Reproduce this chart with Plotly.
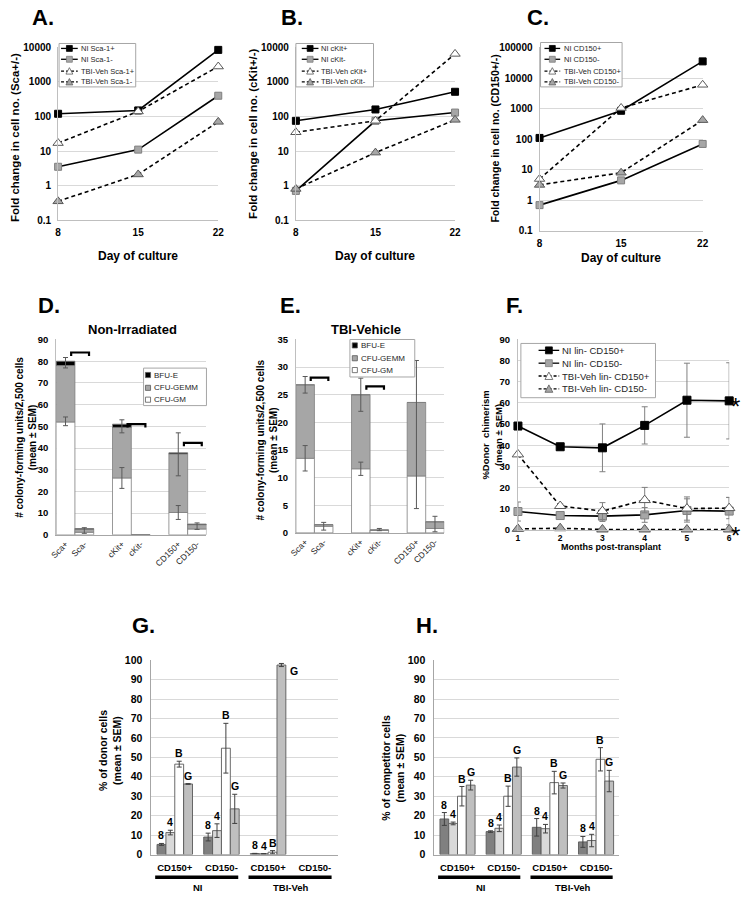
import plotly.graph_objects as go

W, H = 746, 900
def px(x): return x / W
def py(y): return 1 - y / H

FONT = "Liberation Sans, Arial, sans-serif"
GRID = "#D9D9D9"
AXIS = "#BFBFBF"

# ---------------- data ----------------
days = [8, 15, 22]
a_ni_pos = [120, 150, 8500]
a_ni_neg = [3.5, 11, 400]
a_tbi_pos = [17, 140, 2800]
a_tbi_neg = [0.35, 2.1, 70]

b_ni_pos = [75, 160, 520]
b_ni_neg = [0.7, 75, 130]
b_tbi_pos = [35, 75, 6500]
b_tbi_neg = [0.8, 9, 80]

c_ni_pos = [110, 850, 35000]
c_ni_neg = [0.7, 4.5, 70]
c_tbi_pos = [5, 1050, 6000]
c_tbi_neg = [3.2, 8, 420]

ab_ticks = [0.1, 1, 10, 100, 1000, 10000]
c_ticks = [0.1, 1, 10, 100, 1000, 10000, 100000]

# D / E colony assays
slots = ["Sca+", "Sca-", "", "cKit+", "cKit-", "", "CD150+", "CD150-"]
cfu_groups = ["Sca+", "Sca-", "cKit+", "cKit-", "CD150+", "CD150-"]

d_gm = [52.0, 1.2, 26.2, 0, 10.3, 2.7]
d_gemm = [26.0, 1.4, 23.3, 0, 27.0, 2.0]
d_bfu = [2.0, 0.3, 1.5, 0, 0.5, 0.3]
d_err_cats = ["Sca+", "Sca+", "Sca-", "cKit+", "cKit+", "CD150+", "CD150+", "CD150-"]
d_err_mid = [52.3, 79.3, 2.0, 26.2, 50.0, 10.3, 37.1, 4.0]
d_err_plus = [2.0, 2.4, 1.3, 4.8, 3.0, 3.2, 9.9, 1.5]
d_err_minus = [2.0, 2.4, 1.3, 4.8, 3.0, 3.2, 9.9, 1.5]
d_brackets = [("Sca+", "Sca-", 84.0), ("cKit+", "cKit-", 51.0), ("CD150+", "CD150-", 42.4)]

e_gm = [13.5, 1.2, 11.6, 0.5, 10.3, 0.8]
e_gemm = [13.3, 0.3, 13.4, 0, 13.3, 1.2]
e_bfu = [0, 0, 0, 0, 0, 0]
e_err_cats = ["Sca+", "Sca+", "Sca-", "cKit+", "cKit+", "cKit-", "CD150+", "CD150-"]
e_err_mid = [13.5, 26.8, 1.2, 11.6, 25.0, 0.6, 16.0, 1.2]
e_err_plus = [2.3, 1.5, 0.7, 1.2, 3.0, 0.2, 15.2, 1.8]
e_err_minus = [2.3, 1.5, 0.7, 1.2, 3.0, 0.2, 11.6, 1.0]
e_brackets = [("Sca+", "Sca-", 28.1), ("cKit+", "cKit-", 26.5)]

# F chimerism
months = [1, 2, 3, 4, 5, 6]
f_ni_pos = [49.1, 39.3, 38.8, 49.4, 61.3, 61.0]
f_ni_pos_err = [1.0, 1.0, 11.3, 8.8, 17.5, 18.0]
f_ni_neg = [8.7, 6.8, 6.5, 7.1, 9.2, 8.9]
f_ni_neg_err = [4.5, 1.0, 2.5, 3.5, 5.5, 6.5]
f_tbi_pos = [35.7, 11.3, 8.9, 14.1, 10.1, 10.3]
f_tbi_pos_err = [0.5, 1.0, 4.0, 6.0, 5.5, 5.0]
f_tbi_neg = [0.5, 0.8, 0.2, 0.2, 0.2, 0.2]
f_tbi_neg_err = [0.3, 0.3, 0.2, 0.2, 0.2, 0.2]

# G / H lineage output
lin_groups = ["CD150+", "CD150-", "CD150+", "CD150-"]
lin_conditions = ["NI", "NI", "TBI-Veh", "TBI-Veh"]
lin_series = ["8", "4", "B", "G"]

g_vals = {"8": [5.2, 9.0, 0.5, None], "4": [11.3, 12.3, 0.4, None],
          "B": [46.5, 54.7, 1.2, None], "G": [36.3, 23.5, 97.5, None]}
g_errs = {"8": [0.5, 2.0, 0.1, None], "4": [1.2, 3.5, 0.1, None],
          "B": [1.5, 12.8, 0.8, None], "G": [0.2, 7.5, 0.8, None]}

h_vals = {"8": [18.3, 11.8, 14.0, 6.5], "4": [16.0, 13.5, 13.3, 7.2],
          "B": [30.0, 30.0, 37.0, 49.0], "G": [35.7, 45.0, 35.5, 37.8]}
h_errs = {"8": [3.3, 0.4, 4.5, 2.8], "4": [0.7, 1.7, 2.2, 3.2],
          "B": [5.0, 5.2, 5.8, 6.0], "G": [2.5, 4.7, 1.3, 5.5]}

# ---------------- styles ----------------
SER = {
    "ni_pos": dict(dash="solid", symbol="square", fill="black", edge="black"),
    "ni_neg": dict(dash="solid", symbol="square", fill="#A6A6A6", edge="#7F7F7F"),
    "tbi_pos": dict(dash="4px,3px", symbol="triangle-up", fill="white", edge="#595959"),
    "tbi_neg": dict(dash="4px,3px", symbol="triangle-up", fill="#A6A6A6", edge="#595959"),
}
LIN_COL = {"8": "#808080", "4": "#D9D9D9", "B": "#FFFFFF", "G": "#BFBFBF"}
BAR_OFF = {"8": -0.38, "4": -0.19, "B": 0.0, "G": 0.19}
BAR_W = 0.19

fig = go.Figure()
shapes, annotations = [], []


def axn(n):
    return ("x" if n == 1 else f"x{n}"), ("y" if n == 1 else f"y{n}")


def add_series(n, x, y, key, size=7, err=None):
    s = SER[key]
    tri = s["symbol"].startswith("triangle")
    xa, ya = axn(n)
    kw = {}
    if err is not None:
        kw["error_y"] = dict(type="data", array=err, color="#808080", thickness=1, width=3)
    fig.add_trace(go.Scatter(
        x=x, y=y, xaxis=xa, yaxis=ya, mode="lines+markers",
        line=dict(color="black", width=1.6, dash=s["dash"]),
        marker=dict(symbol=s["symbol"], size=size + 2 if tri else size, color=s["fill"],
                    line=dict(color=s["edge"], width=1)),
        cliponaxis=False, showlegend=False, hoverinfo="skip", **kw))


def ann(text, x, y, size=10, bold=True, angle=0, xanchor="center", color="black", **kw):
    annotations.append(dict(text=text, x=x, y=y, xref=kw.pop("xref", "paper"), yref=kw.pop("yref", "paper"),
                            showarrow=False, textangle=angle, xanchor=xanchor, yanchor=kw.pop("yanchor", "middle"),
                            font=dict(family=FONT, size=size, color=color, weight="bold" if bold else "normal"),
                            **kw))


def legend_box(x0, y0, x1, y1):
    shapes.append(dict(type="rect", xref="paper", yref="paper", x0=px(x0), x1=px(x1), y0=py(y1), y1=py(y0),
                       line=dict(color="#A6A6A6", width=1), fillcolor="white", layer="above"))


def legend_line_entry(lx0, lx1, y, key, text, tx, fsize, h=3):
    s = SER[key]
    shapes.append(dict(type="line", xref="paper", yref="paper", x0=px(lx0), x1=px(lx1), y0=py(y), y1=py(y),
                       line=dict(color="black", width=1.3, dash="3px,2px" if s["dash"] != "solid" else "solid"),
                       layer="above"))
    cx = (lx0 + lx1) / 2
    if s["symbol"] == "square":
        shapes.append(dict(type="rect", xref="paper", yref="paper", x0=px(cx - h), x1=px(cx + h),
                           y0=py(y + h), y1=py(y - h), fillcolor=s["fill"],
                           line=dict(color=s["edge"], width=0.8), layer="above"))
    else:
        path = (f"M {px(cx - h - 0.5)},{py(y + h)} L {px(cx + h + 0.5)},{py(y + h)} "
                f"L {px(cx)},{py(y - h - 0.5)} Z")
        shapes.append(dict(type="path", xref="paper", yref="paper", path=path, fillcolor=s["fill"],
                           line=dict(color=s["edge"], width=0.8), layer="above"))
    ann(text, px(tx), py(y), size=fsize, bold=False, xanchor="left", color="#262626")


def legend_swatch_entry(sx, y, fill, text, tx, fsize, h=2.6):
    shapes.append(dict(type="rect", xref="paper", yref="paper", x0=px(sx - h), x1=px(sx + h),
                       y0=py(y + h), y1=py(y - h), fillcolor=fill,
                       line=dict(color="#595959", width=0.8), layer="above"))
    ann(text, px(tx), py(y), size=fsize, bold=False, xanchor="left", color="#262626")


# ---------------- A, B, C ----------------
panels_abc = [
    (1, [a_ni_pos, a_ni_neg, a_tbi_pos, a_tbi_neg], ["NI Sca-1+", "NI Sca-1-", "TBI-Veh Sca-1+", "TBI-Veh Sca-1-"]),
    (2, [b_ni_pos, b_ni_neg, b_tbi_pos, b_tbi_neg], ["NI cKit+", "NI cKit-", "TBI-Veh cKit+", "TBI-Veh cKit-"]),
    (3, [c_ni_pos, c_ni_neg, c_tbi_pos, c_tbi_neg], ["NI CD150+", "NI CD150-", "TBI-Veh CD150+", "TBI-Veh CD150-"]),
]
keys = ["ni_pos", "ni_neg", "tbi_pos", "tbi_neg"]
for n, series, labels in panels_abc:
    for vals, k in zip(series, keys):
        add_series(n, days, vals, k, size=7)

legend_specs = [  # box, line x0, line x1, text x, ys
    (1, (53, 38, 131, 82), 55, 72, 73, [43, 54, 66, 77]),
    (2, (294, 38, 373, 82), 300, 317, 318, [43, 54, 66, 77]),
    (3, (543, 37, 626, 82), 547, 563, 565, [43, 54, 66, 77]),
]
for (n, box, l0, l1, tx, ys), (_, _, labels) in zip(legend_specs, panels_abc):
    legend_box(*box)
    for y, k, lab in zip(ys, keys, labels):
        legend_line_entry(l0, l1, y, k, lab, tx, 7.5)

# ---------------- D, E ----------------
def pos(name):
    return slots.index(name)


def add_cfu(n, gm, gemm, bfu, err_cats, err_mid, err_p, err_m, brackets, depth):
    xa, ya = axn(n)
    xs = [pos(g) for g in cfu_groups]
    base2 = gm
    base3 = [a + b for a, b in zip(gm, gemm)]
    for vals, base, col in [(gm, None, "white"), (gemm, base2, "#A6A6A6"), (bfu, base3, "black")]:
        fig.add_trace(go.Bar(x=xs, y=vals, base=base, width=1, xaxis=xa, yaxis=ya,
                             marker=dict(color=col, line=dict(color="#7F7F7F", width=0.8)),
                             showlegend=False, hoverinfo="skip"))
    fig.add_trace(go.Scatter(x=[pos(c) for c in err_cats], y=err_mid, mode="markers", xaxis=xa, yaxis=ya,
                             marker=dict(size=1, color="rgba(0,0,0,0)"),
                             error_y=dict(type="data", symmetric=False, array=err_p, arrayminus=err_m,
                                          color="#595959", thickness=1, width=2.5),
                             showlegend=False, hoverinfo="skip", cliponaxis=False))
    for a, b, yv in brackets:
        x0, x1 = pos(a) + 0.3, pos(b) + 0.25
        shapes.append(dict(type="path", xref=xa, yref=ya,
                           path=f"M {x0},{yv - depth} L {x0},{yv} L {x1},{yv} L {x1},{yv - depth}",
                           line=dict(color="black", width=2.2)))


add_cfu(4, d_gm, d_gemm, d_bfu, d_err_cats, d_err_mid, d_err_plus, d_err_minus, d_brackets, 1.6)
add_cfu(5, e_gm, e_gemm, e_bfu, e_err_cats, e_err_mid, e_err_plus, e_err_minus, e_brackets, 0.6)

cfu_leg = [("black", "BFU-E"), ("#A6A6A6", "CFU-GEMM"), ("white", "CFU-GM")]
legend_box(139, 367, 203, 405)
for y, (c, t) in zip([374, 387, 399], cfu_leg):
    legend_swatch_entry(143.5, y, c, t, 148, 8)
legend_box(349, 338, 415, 376)
for y, (c, t) in zip([344, 357, 369], cfu_leg):
    legend_swatch_entry(354, y, c, t, 358.5, 8)

# ---------------- F ----------------
add_series(6, months, f_ni_pos, "ni_pos", size=8, err=f_ni_pos_err)
add_series(6, months, f_ni_neg, "ni_neg", size=8, err=f_ni_neg_err)
add_series(6, months, f_tbi_pos, "tbi_pos", size=8, err=f_tbi_pos_err)
add_series(6, months, f_tbi_neg, "tbi_neg", size=8, err=f_tbi_neg_err)
legend_box(523, 342, 660, 397)
for y, k, lab in zip([349, 362, 375, 388], keys,
                     ["NI lin- CD150+", "NI lin- CD150-", "TBI-Veh lin- CD150+", "TBI-Veh lin- CD150-"]):
    legend_line_entry(541, 562, y, k, lab, 563, 9.5, h=3.5)
for yv in [f_ni_pos[-1], f_tbi_neg[-1]]:
    ann("*", months[-1], yv, size=24, bold=False, xanchor="left", xref="x6", yref="y6", xshift=0, yshift=-6)

# ---------------- G, H ----------------
def add_lineage(n, vals, errs):
    xa, ya = axn(n)
    gx = list(range(len(lin_groups)))
    for s in lin_series:
        fig.add_trace(go.Bar(x=gx, y=vals[s], offset=BAR_OFF[s], width=BAR_W, xaxis=xa, yaxis=ya,
                             marker=dict(color=LIN_COL[s], line=dict(color="#595959", width=0.9)),
                             error_y=dict(type="data", array=errs[s], color="#404040", thickness=1, width=2.5),
                             showlegend=False, hoverinfo="skip"))
        for g, v, e in zip(gx, vals[s], errs[s]):
            if v is None:
                continue
            cx = g + BAR_OFF[s] + BAR_W / 2
            top = v + e
            if top > 90:
                ann(s, cx + BAR_W / 2, top, size=10.5, xanchor="left", xref=xa, yref=ya,
                    yanchor="top", xshift=2)
            else:
                ann(s, cx, top, size=10.5, xref=xa, yref=ya, yanchor="bottom", yshift=0)
    # condition underline bars and labels
    conds = []
    for g, c in enumerate(lin_conditions):
        if conds and conds[-1][0] == c:
            conds[-1][2] = g
        else:
            conds.append([c, g, g])
    for c, g0, g1 in conds:
        shapes.append(dict(type="line", xref=xa, yref="paper", x0=g0 - 0.42, x1=g1 + 0.36,
                           y0=py(883), y1=py(883), line=dict(color="black", width=3.5)))
        ann(c, (g0 + g1) / 2, py(893), size=9.5, xref=xa)


add_lineage(7, g_vals, g_errs)
add_lineage(8, h_vals, h_errs)

# ---------------- text ----------------
for t, x, y in [("A.", 37, 12), ("B.", 290, 12), ("C.", 540, 12), ("D.", 43, 304), ("E.", 289, 304),
                ("F.", 516, 304), ("G.", 139, 628), ("H.", 427, 628)]:
    ann(t, px(x), py(y), size=22)

ann("Fold change in cell no. (Sca+/-)", px(8), py(133), size=11.5, angle=-90)
ann("Fold change in cell no. (cKit+/-)", px(251), py(130), size=11.5, angle=-90)
ann("Fold change in cell no. (CD150+/-)", px(497), py(134), size=10.5, angle=-90)
ann("Day of culture", px(133), py(253), size=12)
ann("Day of culture", px(375), py(253), size=12)
ann("Day of culture", px(625), py(255), size=12)
ann("# colony-forming units/2,500 cells<br>(mean ± SEM)", px(20), py(437), size=10, angle=-90)
ann("# colony-forming units/2,500 cells<br>(mean ± SEM)", px(265), py(440), size=10, angle=-90)
ann("%Donor  chimerism<br>(mean ± SEM)", px(493), py(435), size=9.5, angle=-90)
ann("Months post-transplant", px(615), py(548), size=9)
ann("Non-Irradiated", px(128), py(328), size=13)
ann("TBI-Vehicle", px(365), py(328), size=13)
ann("% of donor cells<br>(mean ± SEM)", px(105), py(755), size=10.5, angle=-90)
ann("% of competitor cells<br>(mean ± SEM)", px(393), py(772), size=10.5, angle=-90)

# ---------------- axes ----------------
def tf(size=10, bold=True, color="black"):
    return dict(family=FONT, size=size, color=color, weight="bold" if bold else "normal")


layout = dict(
    width=W, height=H, margin=dict(l=0, r=0, t=0, b=0), paper_bgcolor="white", plot_bgcolor="white",
    showlegend=False, barmode="overlay", font=dict(family=FONT),
    shapes=shapes, annotations=annotations,
)

def xax(n, dom, **kw):
    name = "xaxis" if n == 1 else f"xaxis{n}"
    d = dict(domain=[px(dom[0]), px(dom[1])], anchor=axn(n)[1], showgrid=False, zeroline=False,
             showline=True, linecolor=AXIS, ticks="", fixedrange=True)
    d.update(kw)
    layout[name] = d


def yax(n, dom, **kw):
    name = "yaxis" if n == 1 else f"yaxis{n}"
    d = dict(domain=[py(dom[1]), py(dom[0])], anchor=axn(n)[0], showgrid=True, gridcolor=GRID,
             zeroline=False, showline=True, linecolor=AXIS, ticks="", fixedrange=True)
    d.update(kw)
    layout[name] = d


for n, xd, yd, rng, tv in [(1, (52, 215), (42, 217), [-1, 4], ab_ticks),
                           (2, (294, 456), (42, 217), [-1, 4], ab_ticks),
                           (3, (542, 708), (42, 228), [-1, 5], c_ticks)]:
    xax(n, xd, range=[8, 22], tickvals=days, tickfont=tf(10), ticklabelstandoff=3)
    yax(n, yd, type="log", range=rng, tickvals=tv, ticktext=[f"{v:g}" for v in tv], tickfont=tf(10),
        ticklabelstandoff=4)

for n, xd, yd, top in [(4, (50, 203), (338, 536), 90), (5, (294, 445), (338, 534), 35)]:
    xax(n, xd, range=[-0.5, len(slots) - 0.5], tickvals=list(range(len(slots))), ticktext=slots,
        tickangle=-45, tickfont=tf(8.5, bold=False, color="#262626"), linecolor="#A6A6A6")
    yax(n, yd, range=[0, top], dtick=5 if top < 50 else 10, tickfont=tf(9.5), ticklabelstandoff=5)

xax(6, (520, 735), range=[1, 6], tickvals=months, tickfont=tf(8.5), ticklabelstandoff=0)
yax(6, (338, 531), range=[0, 90], dtick=10, tickfont=tf(9.5), ticklabelstandoff=5)

for n, xd in [(7, (147, 337)), (8, (435, 623))]:
    xax(n, xd, range=[-0.5, len(lin_groups) - 0.5], tickvals=list(range(len(lin_groups))),
        ticktext=lin_groups, tickfont=tf(9.5), linecolor="#A6A6A6", ticklabelstandoff=4)
    yax(n, (663, 860), range=[0, 100], dtick=10, tickfont=tf(10.5), ticklabelstandoff=6,
        linecolor="#A6A6A6")

fig.update_layout(**layout)
fig.write_html("out.html", config={"displayModeBar": False},
               post_script="document.body.style.margin='0px';")
